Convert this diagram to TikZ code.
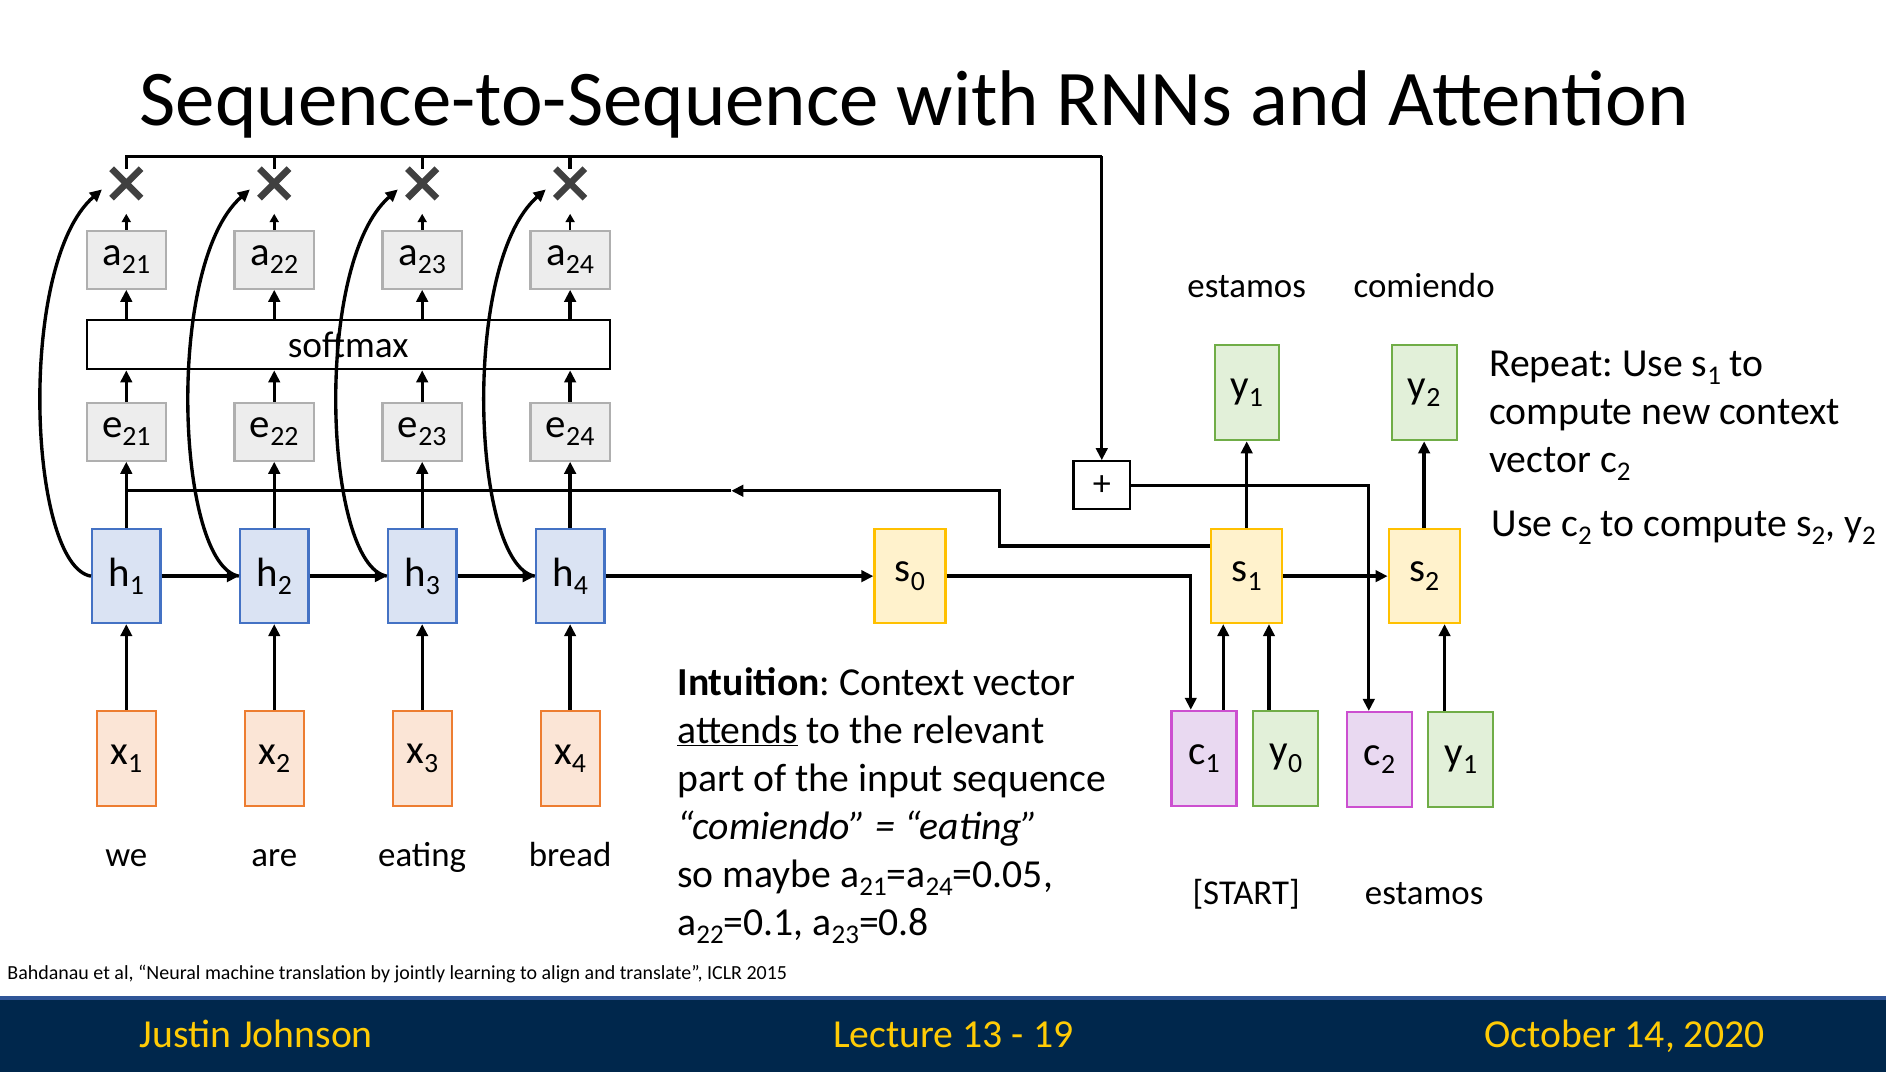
\documentclass[tikz,border=0pt]{standalone}
\usepackage{fontspec}
\setmainfont{Carlito}
\usepackage{graphicx}
\usetikzlibrary{arrows.meta,shapes.misc,calc}
\frenchspacing
\definecolor{gfill}{HTML}{EDEDED}
\definecolor{gdraw}{HTML}{AFAFAF}
\definecolor{hfill}{HTML}{DAE3F3}
\definecolor{hdraw}{HTML}{4472C4}
\definecolor{xfill}{HTML}{FBE5D6}
\definecolor{xdraw}{HTML}{ED7D31}
\definecolor{sfill}{HTML}{FFF2CC}
\definecolor{sdraw}{HTML}{FFC000}
\definecolor{yfill}{HTML}{E2F0D9}
\definecolor{ydraw}{HTML}{70AD47}
\definecolor{cfill}{HTML}{E9D9F1}
\definecolor{cdraw}{HTML}{CC4FD0}
\definecolor{crossgray}{HTML}{404040}
\definecolor{navy}{HTML}{00274C}
\definecolor{footblue}{HTML}{2F5597}
\definecolor{maize}{HTML}{FFCB05}
\newcommand\sbs[1]{\raisebox{-0.42ex}{\scalebox{0.68}{#1}}}
\begin{document}
\frenchspacing
\begin{tikzpicture}[x=1pt,y=-1pt,
  box/.style={draw, line width=1.8pt, inner sep=0pt, font=\fontsize{34}{40}\selectfont},
  gbox/.style={box, fill=gfill, draw=gdraw, minimum width=66pt, minimum height=48pt},
  hbox/.style={box, fill=hfill, draw=hdraw, minimum width=57pt, minimum height=78pt},
  xbox/.style={box, fill=xfill, draw=xdraw, minimum width=49pt, minimum height=79pt},
  sbox/.style={box, fill=sfill, draw=sdraw, minimum width=59pt, minimum height=78pt},
  ybox/.style={box, fill=yfill, draw=ydraw, minimum width=54pt, minimum height=79pt},
  cbox/.style={box, fill=cfill, draw=cdraw, minimum width=54pt, minimum height=79pt},
  crossm/.style={cross out, draw=crossgray, line width=5.5pt, minimum size=19pt, inner sep=0pt},
  lbl/.style={font=\fontsize{29}{35}\selectfont, anchor=base, inner sep=0pt},
  txt/.style={font=\fontsize{33}{40}\selectfont, anchor=base west, inner sep=0pt},
  foot/.style={font=\fontsize{33}{40}\selectfont, text=maize, inner sep=0pt},
  conn/.style={line width=2.8pt, -{Triangle[length=10pt,width=9.5pt]}},
  line/.style={line width=2.8pt},
  small/.style={line width=2.2pt, -{Triangle[length=7pt,width=7.5pt]}}
]
\useasboundingbox (0,0) rectangle (1568,891);
\fill[white] (0,0) rectangle (1568,891);

% title
\node[anchor=base west, inner sep=0pt, font=\fontsize{65.6}{72}\selectfont] (title) at (116,104) {Sequence-to-Sequence with RNNs and Attention};

% encoder columns
\foreach \i/\x/\w in {1/105/we,2/228/are,3/351/eating,4/474/bread} {
  \node[gbox] (a\i) at (\x,216) {a\sbs{2\i}};
  \node[gbox] (e\i) at (\x,359) {e\sbs{2\i}};
  \node[hbox] (h\i) at (\x,479) {h\sbs{\i}};
  \node[xbox] (x\i) at (\x,630.5) {x\sbs{\i}};
  \node[crossm] (m\i) at (\x,152.5) {};
  \node[lbl] (w\i) at (\x,720) {\w};
}
\node[box, fill=white, minimum width=435pt, minimum height=41pt, font=\fontsize{31}{36}\selectfont] (sm) at (289.5,286.5) {softmax};

% decoder
\node[sbox] (s0) at (756.5,479) {s\sbs{0}};
\node[sbox] (s1) at (1036.5,479) {s\sbs{1}};
\node[sbox] (s2) at (1184,479) {s\sbs{2}};
\node[ybox, minimum width=53pt] (yt1) at (1036.5,326.5) {y\sbs{1}};
\node[ybox] (yt2) at (1184,326.5) {y\sbs{2}};
\node[box, fill=white, minimum width=47pt, minimum height=40pt, font=\fontsize{30}{36}\selectfont] (plus) at (916,403.5) {+};
\node[cbox] (c1) at (1001,630.5) {c\sbs{1}};
\node[ybox] (y0) at (1069,630.5) {y\sbs{0}};
\node[cbox] (c2) at (1147,631.5) {c\sbs{2}};
\node[ybox] (yb1) at (1214.5,631.5) {y\sbs{1}};
\node[lbl] (lest) at (1036.5,247) {estamos};
\node[lbl] (lcom) at (1184,247) {comiendo};
\node[lbl] (lstart) at (1036,752) {[START]};
\node[lbl] (lest2) at (1184,752) {estamos};

% encoder connectors
\foreach \i in {1,2,3,4} {
  \draw[conn] (x\i.north) -- (h\i.south);
  \draw[conn] (h\i.north) -- (e\i.south);
  \draw[conn] (e\i.north) -- (e\i.north |- sm.south);
  \draw[conn] (a\i.south |- sm.north) -- (a\i.south);
  \draw[small] (a\i.north) -- ($(m\i.south)+(0,13)$);
  \draw[conn] (h\i.west) .. controls +(-52,-9) and +(-71,62) .. ($(m\i.west)+(-8,5)$);
}
\draw[conn] (h1.east) -- (h2.west);
\draw[conn] (h2.east) -- (h3.west);
\draw[conn] (h3.east) -- (h4.west);
\draw[conn] (h4.east) -- (s0.west);

% weighted sum to plus
\coordinate (top) at (916,130);
\draw[line] (m1.north) |- (top);
\foreach \i in {2,3,4} { \draw[line] (m\i.north) -- (m\i.north |- top); }
\draw[conn] (top) -- (plus.north);
\coordinate (c2in) at ($(c2.north)+(-9,0)$);
\draw[conn] (plus.east) -| (c2in);

% s1 feedback to attention scores
\coordinate (f0) at ($(s1.west)+(0,-25)$);
\coordinate (fb) at (831,408);
\coordinate (fm) at (608,408);
\draw[conn] (f0) -| (fb) -- (fm);
\draw[line] (fm) -- (h1.north |- fm);

% decoder connectors
\coordinate (c1in) at ($(c1.north)+(-11,0)$);
\coordinate (c1out) at ($(c1.north)+(16,0)$);
\coordinate (y0out) at ($(y0.north)+(-14,0)$);
\coordinate (yb1out) at ($(yb1.north)+(-13.5,0)$);
\draw[conn] (s0.east) -| (c1in);
\draw[conn] (c1out) -- (c1out |- s1.south);
\draw[conn] (y0out) -- (y0out |- s1.south);
\draw[conn] (yb1out) -- (yb1out |- s2.south);
\draw[conn] (s1.east) -- (s2.west);
\draw[conn] (s1.north) -- (yt1.south);
\draw[conn] (s2.north) -- (yt2.south);

% texts
\node[txt] (t1) at (563,578) {\textbf{Intuition}: Context vector};
\node[txt] (t2) at (563,618) {\underline{attends} to the relevant};
\node[txt] (t3) at (563,658) {part of the input sequence};
\node[txt] (t4) at (563,698) {\textit{“comiendo” = “eating”}};
\node[txt] (t5) at (563,738) {so maybe a\sbs{21}=a\sbs{24}=0.05,};
\node[txt] (t6) at (563,778) {a\sbs{22}=0.1, a\sbs{23}=0.8};
\node[txt] (r1) at (1238,313) {Repeat: Use s\sbs{1} to};
\node[txt] (r2) at (1238,353) {compute new context};
\node[txt] (r3) at (1238,393) {vector c\sbs{2}};
\node[txt] (r4) at (1240,446) {Use c\sbs{2} to compute s\sbs{2}, y\sbs{2}};

% citation
\node[anchor=base west, inner sep=0pt, font=\fontsize{16.6}{19}\selectfont] (cite) at (6,814) {Bahdanau et al, “Neural machine translation by jointly learning to align and translate”, ICLR 2015};

% footer
\fill[navy] (0,829) rectangle (1568,891);
\draw[footblue, line width=3pt] (0,829.5) -- (1568,829.5);
\node[foot, anchor=base west] (fa) at (116,871) {Justin Johnson};
\node[foot, anchor=base] (fb2) at (792.5,871) {Lecture 13 - 19};
\node[foot, anchor=base west] (fc) at (1234,871) {October 14, 2020};
\end{tikzpicture}
\end{document}
